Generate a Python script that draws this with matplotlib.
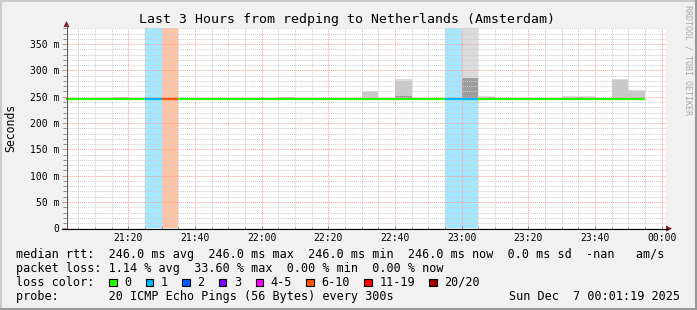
import pandas as pd
import matplotlib
matplotlib.use('Agg')
import matplotlib.pyplot as plt
import matplotlib.dates as mdates
from matplotlib.patches import Rectangle, Polygon
from matplotlib.lines import Line2D
from matplotlib.ticker import MultipleLocator, FuncFormatter

# 5 minute steps, start of each step (first one is cut by the left edge)
bin_start = pd.date_range('2025-12-06 21:00', '2025-12-06 23:50', freq='5min')

# median rtt per step, seconds
median_rtt = [0.246, 0.246, 0.246, 0.246, 0.246,
              0.246, 0.246, 0.246, 0.246, 0.246,
              0.246, 0.246, 0.246, 0.246, 0.246,
              0.246, 0.246, 0.246, 0.246, 0.246,
              0.246, 0.246, 0.246, 0.246, 0.246,
              0.246, 0.246, 0.246, 0.246, 0.246,
              0.246, 0.246, 0.246, 0.246, 0.246]

# lost pings (of 20) per step
lost_pings = [0, 0, 0, 0, 0,
              1, 7, 0, 0, 0,
              0, 0, 0, 0, 0,
              0, 0, 0, 0, 0,
              0, 0, 0, 1, 1,
              0, 0, 0, 0, 0,
              0, 0, 0, 0, 0]

# smoke (spread of the pings above the median)
smoke_bins = ['21:15', '22:05', '22:30', '22:40', '23:00', '23:05', '23:30', '23:35', '23:45', '23:50']
smoke_light = [0.250, 0.250, 0.261, 0.283, 0.400, 0.252, 0.251, 0.251, 0.284, 0.263]
smoke_mid = [0.249, 0.249, 0.259, 0.280, 0.286, 0.250, 0.250, 0.250, 0.282, 0.261]
smoke_dark = [0.247, 0.247, 0.247, 0.251, 0.286, 0.247, 0.247, 0.247, 0.247, 0.247]

loss_labels = ['0', '1', '2', '3', '4-5', '6-10', '11-19', '20/20']
loss_colors = ['#26ff00', '#00b8ff', '#0059ff', '#7e00ff', '#ff00ff', '#ff5500', '#ff0000', '#a10000']

title = 'Last 3 Hours from redping to Netherlands (Amsterdam)'
legend_rows = [
    'median rtt:  246.0 ms avg  246.0 ms max  246.0 ms min  246.0 ms now  0.0 ms sd  -nan   am/s',
    'packet loss: 1.14 % avg  33.60 % max  0.00 % min  0.00 % now',
    'loss color:',
    'probe:       20 ICMP Echo Pings (56 Bytes) every 300s',
]
stamp = 'Sun Dec  7 00:01:19 2025'

t_start = pd.Timestamp('2025-12-06 21:01:19')
t_end = pd.Timestamp('2025-12-07 00:01:19')
step = pd.Timedelta('5min')


def loss_class(n):
    if n <= 3:
        return n
    if n <= 5:
        return 4
    if n <= 10:
        return 5
    if n <= 19:
        return 6
    return 7


W, H = 697, 310
plt.rcParams['font.family'] = ['DejaVu Sans Mono']
fig = plt.figure(figsize=(W / 100, H / 100), dpi=100, facecolor='#f1f1f1')


def fx(x):
    return x / W


def fy(y):
    return 1 - y / H


ax = fig.add_axes([fx(66), fy(228.3), 600 / W, 200 / H])
ax.set_facecolor('white')
ax.set_xlim(t_start, t_end)
ax.set_ylim(0, 0.38)

# loss background
for t, n in zip(bin_start, lost_pings):
    if n > 0:
        ax.axvspan(t, t + step, color=loss_colors[loss_class(n)], alpha=0.35, lw=0, zorder=1)

# smoke
sx = [pd.Timestamp('2025-12-06 ' + s) for s in smoke_bins]
for tops, col in [(smoke_light, '#dcdcdc'), (smoke_mid, '#c9c9c9'), (smoke_dark, '#9d9d9d')]:
    for t, top in zip(sx, tops):
        ax.bar(t, top - 0.246, bottom=0.246, width=step, align='edge', color=col, lw=0, zorder=2)

# grid
ax.xaxis.set_major_locator(mdates.MinuteLocator(byminute=[0, 20, 40]))
ax.xaxis.set_minor_locator(mdates.MinuteLocator(byminute=range(0, 60, 5)))
ax.xaxis.set_major_formatter(mdates.DateFormatter('%H:%M'))
ax.yaxis.set_major_locator(MultipleLocator(0.05))
ax.yaxis.set_minor_locator(MultipleLocator(0.01))
ax.yaxis.set_major_formatter(FuncFormatter(lambda v, p: '0' if v < 1e-9 else '%d m' % round(v * 1000)))
ax.grid(which='minor', color='#cdcdcd', lw=0.7, ls=(0, (1, 1)), zorder=3)
ax.grid(which='major', color='#f5a0a0', lw=0.7, ls=(0, (1, 1)), zorder=3)
ax.set_axisbelow(False)

# median line, coloured by loss
ax.hlines(median_rtt, bin_start, bin_start + step,
          colors=[loss_colors[loss_class(n)] for n in lost_pings], lw=1.6, zorder=5)

for s in ax.spines.values():
    s.set_visible(False)
ax.tick_params(which='both', labelsize=7, colors='#777777', labelcolor='black', pad=2)
ax.tick_params(which='major', length=3, width=0.7)
ax.tick_params(which='minor', length=2, width=0.6)
ax.tick_params(axis='x', which='both', direction='inout')
ax.tick_params(axis='y', which='both', direction='out')
ax.tick_params(axis='y', which='major', colors='#f08080', labelcolor='black')

# axes lines with arrows
fig.add_artist(Line2D([fx(66.5), fx(66.5)], [fy(229), fy(25)], color='#555555', lw=0.8))
fig.add_artist(Line2D([fx(62), fx(668)], [fy(228.6), fy(228.6)], color='black', lw=0.8))
fig.add_artist(Polygon([(fx(63.5), fy(27)), (fx(69.5), fy(27)), (fx(66.5), fy(21))],
                       closed=True, color='#8b1a1a', lw=0))
fig.add_artist(Polygon([(fx(666), fy(225.6)), (fx(666), fy(231.6)), (fx(672), fy(228.6))],
                       closed=True, color='#8b1a1a', lw=0))

# texts
fig.text(fx(347), fy(19), title, ha='center', va='center', fontsize=9.5)
fig.text(fx(11), fy(128), 'Seconds', ha='center', va='center', rotation=90, fontsize=8.3)
fig.text(fx(688), fy(60), 'RRDTOOL / TOBI OETIKER', ha='center', va='center',
         rotation=-90, fontsize=6, color='#a8a8a8')

row_y = [254.3, 268.3, 282.3, 296.3]
for txt, y in zip(legend_rows, row_y):
    fig.text(fx(16), fy(y), txt, ha='left', va='center', fontsize=8.5)
fig.text(fx(680), fy(row_y[3]), stamp, ha='right', va='center', fontsize=8.5)

bx = 109
for lab, col in zip(loss_labels, loss_colors):
    fig.add_artist(Rectangle((fx(bx), fy(row_y[2] + 3.7)), 7.5 / W, 7.5 / H,
                             facecolor=col, edgecolor='black', lw=0.8))
    fig.text(fx(bx + 15), fy(row_y[2]), lab, ha='left', va='center', fontsize=8.5)
    bx += 29.6 + 7.05 * len(lab)

# frame shading
fig.add_artist(Line2D([0, 1], [fy(0.8), fy(0.8)], color='#cbcbcb', lw=1.5))
fig.add_artist(Line2D([fx(0.8), fx(0.8)], [0, 1], color='#cbcbcb', lw=1.5))
fig.add_artist(Line2D([0, 1], [fy(309), fy(309)], color='#999999', lw=1.5))
fig.add_artist(Line2D([fx(696), fx(696)], [0, 1], color='#999999', lw=1.5))

fig.savefig('out.png', dpi=100, facecolor=fig.get_facecolor())
